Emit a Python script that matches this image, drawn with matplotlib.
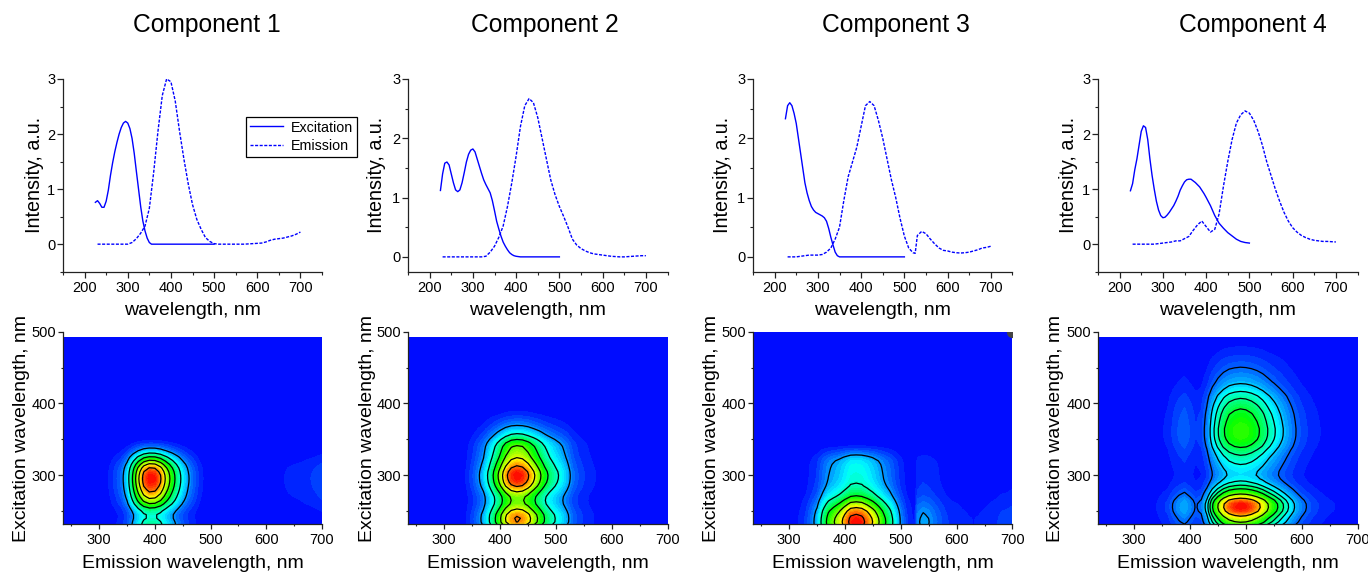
import numpy as np
import matplotlib
matplotlib.use("Agg")
import matplotlib.pyplot as plt
from matplotlib.colors import LinearSegmentedColormap
from matplotlib.ticker import MultipleLocator

plt.rcParams['font.family'] = ['Liberation Sans', 'DejaVu Sans']

W, H = 1368, 573
titles = ['Component 1', 'Component 2', 'Component 3', 'Component 4']

ex_wl = list(range(225, 400, 5)) + list(range(400, 510, 10))
em_wl = list(range(230, 710, 10))
em_wl3 = list(range(230, 530, 10)) + [525] + list(range(530, 710, 10))
em_wl3 = sorted(em_wl3)

ex1 = [.76, .79, .74, .67, .67, .78, .98, 1.25, 1.48, 1.68, 1.85, 2.0, 2.12, 2.2, 2.23, 2.2, 2.1, 1.92,
       1.65, 1.32, 1.0, .68, .42, .24, .11, .03, 0] + [0] * 19
em1 = [0] * 8 + [.03, .1, .2, .33, .65, 1.3, 2.05, 2.7, 3.0, 2.95, 2.6, 2.05, 1.55, 1.1, .72, .45, .27, .12,
                 .05, .01] + [0] * 7 + [.005, .01, .015, .02, .04, .07, .09, .1, .11, .13, .15, .18, .22]

ex2 = [1.12, 1.4, 1.58, 1.6, 1.55, 1.4, 1.25, 1.13, 1.1, 1.13, 1.25, 1.42, 1.6, 1.73, 1.8, 1.82, 1.77, 1.65,
       1.53, 1.41, 1.3, 1.22, 1.15, 1.08, .95, .78, .6, .47, .35, .25, .18, .12, .07, .04, .02, .01] + [0] * 10
em2 = [0] * 10 + [.01, .08, .18, .33, .52, .85, 1.25, 1.7, 2.2, 2.55, 2.67, 2.6, 2.35, 2.0, 1.65, 1.3, 1.05,
                  .85, .68, .5, .3, .2, .14, .1, .07, .05, .04, .03, .02, .01, .005, 0, 0, .005, .01, .015,
                  .02, .02]

ex3 = [2.33, 2.55, 2.6, 2.55, 2.42, 2.25, 2.0, 1.75, 1.5, 1.25, 1.08, .95, .85, .79, .75, .73, .71, .69, .66,
       .6, .48, .33, .2, .08, .02] + [0] * 21
em3 = [0, 0, 0, .01, .02, .03, .03, .03, .04, .08, .15, .3, .5, .95, 1.35, 1.6, 1.85, 2.2, 2.55, 2.62, 2.55,
       2.3, 2.0, 1.65, 1.3, 1.0, .65, .35, .15, .07, .06, .36, .43, .39, .3, .22, .15, .11, .1, .08, .07,
       .065, .07, .08, .1, .12, .15, .16, .18]

ex4 = [.97, 1.1, 1.35, 1.55, 1.8, 2.05, 2.15, 2.12, 1.9, 1.55, 1.25, 1.0, .78, .62, .52, .48, .49, .53, .58,
       .64, .7, .78, .87, .98, 1.06, 1.13, 1.17, 1.18, 1.18, 1.15, 1.12, 1.08, 1.04, .98, .92, .85,
       .7, .52, .38, .29, .21, .15, .09, .05, .03, .02]
em4 = [0] * 6 + [.01, .02, .03, .04, .06, .06, .1, .14, .25, .35, .42, .32, .22, .27, .55, 1.05, 1.5, 1.9, 2.2,
                 2.35, 2.42, 2.38, 2.25, 2.05, 1.8, 1.5, 1.25, 1.0, .78, .58, .42, .3, .22, .16, .12, .09,
                 .07, .06, .05, .05, .045, .04]

ex_series = [ex1, ex2, ex3, ex4]
em_series = [em1, em2, em3, em4]
em_grids = [em_wl, em_wl, em_wl3, em_wl]
contour_levels = [
    [.95, 1.9, 2.85, 3.8, 4.75, 5.7],
    [.7, 1.4, 2.1, 2.8, 3.5, 4.2],
    [1.0, 2.1, 3.15, 4.2, 5.25, 6.3],
    [.5, 1.0, 1.4, 1.8, 2.3, 3.2, 4.1],
]
line_ymin = [-0.5, -0.25, -0.25, -0.5]
line_lefts = [63, 408, 753, 1098]
line_rights = [322, 667.5, 1012.5, 1357.5]
heat_top_data = [492, 492, 500, 492]
title_x = [207, 545, 896, 1253]
ylab_off = [29, 32, 31, 30]
heat_ylab_off = [41, 41, 41, 42]

jet_like = LinearSegmentedColormap.from_list(
    'origin_rainbow',
    [(0.0, (0, 0, 1)), (0.25, (0, 1, 1)), (0.5, (0, 1, 0)), (0.75, (1, 1, 0)), (1.0, (1, 0, 0))])

fig = plt.figure(figsize=(W / 100, H / 100), dpi=100)


def make_axes(l, r, t, b):
    return fig.add_axes([l / W, 1 - b / H, (r - l) / W, (b - t) / H])


def style(ax, xmaj, xmin_, ymaj, ymin_, xtick_len):
    for s in ('top', 'right'):
        ax.spines[s].set_visible(False)
    for s in ('left', 'bottom'):
        ax.spines[s].set_linewidth(0.9)
        ax.spines[s].set_color('#222222')
    ax.xaxis.set_major_locator(MultipleLocator(xmaj))
    ax.xaxis.set_minor_locator(MultipleLocator(xmin_))
    ax.yaxis.set_major_locator(MultipleLocator(ymaj))
    ax.yaxis.set_minor_locator(MultipleLocator(ymin_))
    ax.tick_params(which='major', length=xtick_len, width=0.9, labelsize=10.5, pad=3, color='#222222')
    ax.tick_params(axis='y', which='major', pad=1.5)
    ax.tick_params(which='minor', length=xtick_len / 2, width=0.8, color='#222222')


for i in range(4):
    L, R = line_lefts[i], line_rights[i]
    fig.text(title_x[i] / W, 1 - 25 / H, titles[i], ha='center', va='center', fontsize=17.7)

    # spectra panel
    ax = make_axes(L, R, 79, 271.7)
    lex, = ax.plot(ex_wl, ex_series[i], color='#0000ff', lw=1.0, label='Excitation')
    lem, = ax.plot(em_grids[i], em_series[i], color='#0000ff', lw=1.0, ls=(0, (2.2, 1.1)), label='Emission')
    ax.set_xlim(150, 750)
    ax.set_ylim(line_ymin[i], 3)
    style(ax, 100, 50, 1, 0.5, 4)
    ax.set_xlabel('wavelength, nm', fontsize=14, va='center')
    ax.xaxis.set_label_coords(((L + R) / 2) / W, 1 - 310 / H, transform=fig.transFigure)
    ax.set_ylabel('Intensity, a.u.', fontsize=14.2, va='center')
    ax.yaxis.set_label_coords((L - ylab_off[i]) / W, 1 - 175 / H, transform=fig.transFigure)
    if i == 0:
        leg = ax.legend(handles=[lex, lem], loc='upper left', bbox_to_anchor=(246 / W, 1 - 116.5 / H),
                        bbox_transform=fig.transFigure, borderaxespad=0, fontsize=10.3, fancybox=False,
                        framealpha=1, edgecolor='black', handlelength=2.3, handletextpad=0.55,
                        labelspacing=0.3, borderpad=0.28)
        leg.get_frame().set_linewidth(0.9)

    # excitation-emission map panel
    ax2 = make_axes(L, R, 331.7, 524)
    z = np.outer(ex_series[i], em_series[i])
    zmax = z.max()
    ax2.contourf(em_grids[i], ex_wl, z, levels=np.linspace(0, zmax, 41), cmap=jet_like, vmin=0, vmax=zmax)
    ax2.contour(em_grids[i], ex_wl, z, levels=contour_levels[i], colors='black', linewidths=0.9)
    ax2.set_xlim(235, 700)
    ax2.set_ylim(232, 500)
    if heat_top_data[i] < 500:
        ax2.axhspan(heat_top_data[i], 500, color='white', lw=0, zorder=2)
    else:
        ax2.plot([ax2.get_xlim()[1]], [ax2.get_ylim()[1]], 'o', color='#444444', ms=7, zorder=2)
    style(ax2, 100, 50, 100, 50, 3.5)
    ax2.set_xlabel('Emission wavelength, nm', fontsize=14, va='center')
    ax2.xaxis.set_label_coords(((L + R) / 2) / W, 1 - 563 / H, transform=fig.transFigure)
    ax2.set_ylabel('Excitation wavelength, nm', fontsize=14, va='center')
    ax2.yaxis.set_label_coords((L - heat_ylab_off[i]) / W, 1 - 428 / H, transform=fig.transFigure)

fig.savefig('out.png', dpi=100)
